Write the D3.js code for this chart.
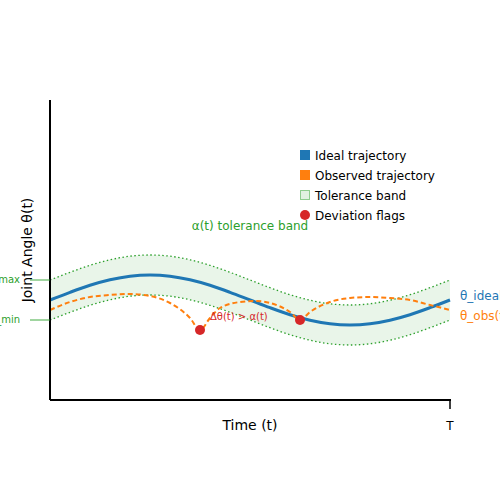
<!DOCTYPE html>
<html><head><meta charset="utf-8">
<script src="https://cdn.jsdelivr.net/npm/d3@7"></script>
<style>body{margin:0;background:#fff}text{font-family:"DejaVu Sans",sans-serif}</style>
</head><body><svg id="c" width="500" height="500"></svg>
<script>
var tIdeal = [0,0.05,0.1,0.15,0.2,0.25,0.3,0.35,0.4,0.45,0.5,0.55,0.6,0.65,0.7,0.75,0.8,0.85,0.9,0.95,1];
var ideal = [100,107.7,114.7,120.2,123.8,125,123.8,120.2,114.7,107.7,100,92.3,85.3,79.8,76.2,75,76.2,79.8,85.3,92.3,100];
var upper = [120,127.7,134.7,140.2,143.8,145,143.8,140.2,134.7,127.7,120,112.3,105.3,99.8,96.2,95,96.2,99.8,105.3,112.3,120];
var lower = [80,87.7,94.7,100.2,103.8,105,103.8,100.2,94.7,87.7,80,72.3,65.3,59.8,56.2,55,56.2,59.8,65.3,72.3,80];
var tObs = [0,0.05,0.1,0.15,0.2,0.25,0.3,0.35,0.375,0.4,0.425,0.475,0.5125,0.55,0.6,0.625,0.65,0.7,0.75,0.8,0.85,0.9,0.95,1];
var obs = [90,98,103,105,106,104,97,82,70,82,92,98,99,97,88,80,88,98,102,103,102,100,95,90];
var flags = [{t:0.375,v:70},{t:0.625,v:80}];
var legendItems = ["Ideal trajectory","Observed trajectory","Tolerance band","Deviation flags"];

var svg = d3.select("#c");
var x = d3.scaleLinear().domain([0,1]).range([50,450]);
var y = d3.scaleLinear().domain([0,300]).range([400,100]);
var blue = "#1f77b4", orange = "#ff7f0e", green = "#2ca02c", red = "#d62728";

var band = tIdeal.map(function (t, i) { return {t:t, u:upper[i], l:lower[i], v:ideal[i]}; });
var curve = d3.curveMonotoneX;

svg.append("path").datum(band)
    .attr("d", d3.area().curve(curve).x(function (d) { return x(d.t); }).y0(function (d) { return y(d.l); }).y1(function (d) { return y(d.u); }))
    .attr("fill", green).attr("fill-opacity", 0.1);
["u","l"].forEach(function (k) {
    svg.append("path").datum(band)
        .attr("d", d3.line().curve(curve).x(function (d) { return x(d.t); }).y(function (d) { return y(d[k]); }))
        .attr("fill", "none").attr("stroke", green).attr("stroke-width", 1.3).attr("stroke-dasharray", "1.5,2.5");
});
svg.append("path").datum(band)
    .attr("d", d3.line().curve(curve).x(function (d) { return x(d.t); }).y(function (d) { return y(d.v); }))
    .attr("fill", "none").attr("stroke", blue).attr("stroke-width", 3);
svg.append("path").datum(tObs.map(function (t, i) { return {t:t, v:obs[i]}; }))
    .attr("d", d3.line().curve(curve).x(function (d) { return x(d.t); }).y(function (d) { return y(d.v); }))
    .attr("fill", "none").attr("stroke", orange).attr("stroke-width", 2).attr("stroke-dasharray", "5,3");
svg.selectAll(".flag").data(flags).enter().append("circle")
    .attr("cx", function (d) { return x(d.t); }).attr("cy", function (d) { return y(d.v); })
    .attr("r", 5).attr("fill", red);

// axes
svg.append("line").attr("x1",50).attr("x2",50).attr("y1",100).attr("y2",400).attr("stroke","#000").attr("stroke-width",2);
svg.append("line").attr("x1",50).attr("x2",451).attr("y1",400).attr("y2",400).attr("stroke","#000").attr("stroke-width",2);
svg.append("line").attr("x1",450).attr("x2",450).attr("y1",400).attr("y2",409).attr("stroke","#000").attr("stroke-width",1.5);
svg.append("text").attr("x",450).attr("y",430).attr("text-anchor","middle").attr("font-size",12).text("T");
svg.append("text").attr("x",250).attr("y",430).attr("text-anchor","middle").attr("font-size",14).text("Time (t)");
svg.append("text").attr("transform","translate(32,250) rotate(-90)").attr("text-anchor","middle").attr("font-size",14).text("Joint Angle θ(t)");

// alpha max/min markers
[[upper[0],"θ_max"],[lower[0],"θ_min"]].forEach(function (m) {
    svg.append("line").attr("x1",30).attr("x2",50).attr("y1",y(m[0])).attr("y2",y(m[0])).attr("stroke",green).attr("stroke-opacity",0.6).attr("stroke-width",1.5);
    svg.append("text").attr("x",20).attr("y",y(m[0])+3).attr("text-anchor","end").attr("font-size",10).attr("fill",green).text(m[1]);
});

svg.append("text").attr("x",250).attr("y",230).attr("text-anchor","middle").attr("font-size",12).attr("fill",green).text("α(t) tolerance band");
svg.append("text").attr("x",210).attr("y",320).attr("font-size",10).attr("fill",red).text("Δθ(t) > α(t)");
svg.append("text").attr("x",460).attr("y",300).attr("font-size",12).attr("fill",blue).text("θ_ideal(t)");
svg.append("text").attr("x",460).attr("y",320).attr("font-size",12).attr("fill",orange).text("θ_obs(t)");

// legend
var lg = svg.append("g").attr("transform","translate(300,150)");
legendItems.forEach(function (name, i) {
    var g = lg.append("g").attr("transform","translate(0," + (i*20) + ")");
    if (i === 0 || i === 1) g.append("rect").attr("width",10).attr("height",10).attr("fill", i ? orange : blue);
    else if (i === 2) g.append("rect").attr("x",0.5).attr("y",0.5).attr("width",9).attr("height",9).attr("fill",green).attr("fill-opacity",0.15).attr("stroke",green).attr("stroke-opacity",0.5);
    else g.append("circle").attr("cx",5).attr("cy",5).attr("r",5).attr("fill",red);
    g.append("text").attr("x",15).attr("y",9.5).attr("font-size",12).text(name);
});
</script></body></html>
